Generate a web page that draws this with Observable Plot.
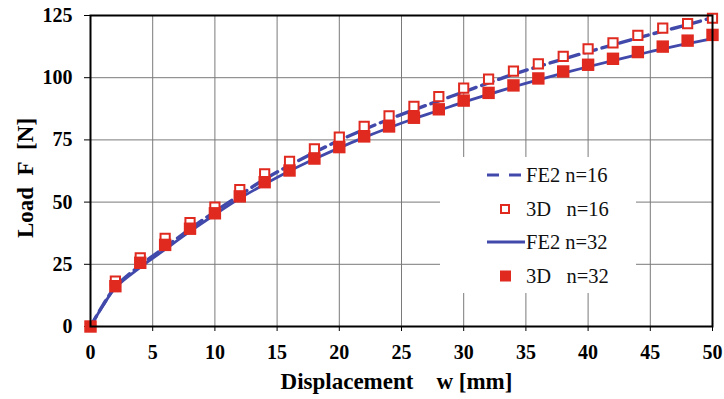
<!DOCTYPE html>
<html>
<head>
<meta charset="utf-8">
<script src="https://cdn.jsdelivr.net/npm/d3@7"></script>
<script src="https://cdn.jsdelivr.net/npm/@observablehq/plot@0.6"></script>
<style>
  html, body { margin: 0; padding: 0; background: #fff; }
  #wrap { position: relative; width: 724px; height: 399px; }
  #legend { position: absolute; left: 440px; top: 157px; width: 196px; height: 136px; background: #fff; }
</style>
</head>
<body>
<div id="wrap"></div>
<script>
// ---- data ----
const wMarkers = [0,2,4,6,8,10,12,14,16,18,20,22,24,26,28,30,32,34,36,38,40,42,44,46,48,50];
const load3D_n16 = [0,18.2,27.6,35.4,41.8,48.0,55.0,61.4,66.4,71.4,76.1,80.4,84.7,88.5,92.4,95.8,99.4,102.6,105.6,108.6,111.6,114.0,117.0,119.9,121.7,123.9];
const load3D_n32 = [0,16.2,25.6,32.8,39.3,45.5,52.3,58.0,62.7,67.5,72.1,76.4,80.4,83.9,87.3,90.8,93.9,96.9,99.7,102.5,105.2,107.6,110.3,112.5,114.9,117.2];
const wLines = [0,1,2,4,6,8,10,12,14,16,18,20,22,24,26,28,30,32,34,36,38,40,42,44,46,48,50];
const loadFE2_n16 = [0,8.6,15.9,24.6,31.9,39.2,46.2,52.8,59.2,64.8,70.0,74.8,79.2,83.3,87.1,90.7,94.3,97.9,101.4,104.5,107.5,110.4,113.2,116.0,118.7,121.3,124.2];
const loadFE2_n32 = [0,8.3,15.6,23.8,31.0,38.2,45.0,51.5,57.2,62.5,67.3,71.8,76.0,79.9,83.5,86.8,90.2,93.3,96.3,99.1,101.8,104.4,106.9,109.3,111.6,113.7,115.7];
const xTicks = [0,5,10,15,20,25,30,35,40,45,50];
const yTicks = [0,25,50,75,100,125];
const legendLabels = ["FE2 n=16", "3D   n=16", "FE2 n=32", "3D   n=32"];

const BLUE = "#4149ab";
const RED = "#e0291f";
const FONT = "Liberation Serif";

const pts = (xs, ys) => xs.map((x, i) => ({w: x, F: ys[i]}));
const m16 = pts(wMarkers, load3D_n16);
const m32 = pts(wMarkers, load3D_n32);
const l16 = pts(wLines, loadFE2_n16);
const l32 = pts(wLines, loadFE2_n32);

const chart = Plot.plot({
  width: 724,
  height: 399,
  marginLeft: 90,
  marginRight: 12,
  marginTop: 15,
  marginBottom: 73,
  style: { fontFamily: FONT, background: "#fff", color: "#000", overflow: "visible" },
  x: { domain: [0, 50] },
  y: { domain: [0, 125] },
  marks: [
    Plot.gridX(xTicks, { stroke: "#7a7a7a", strokeOpacity: 1, strokeWidth: 1 }),
    Plot.gridY(yTicks, { stroke: "#7a7a7a", strokeOpacity: 1, strokeWidth: 1 }),
    Plot.axisX(xTicks, {
      tickSize: 5, tickPadding: 13, fontSize: 20, fontWeight: "bold",
      label: "Displacement\u00a0\u00a0\u00a0 w [mm]", labelAnchor: "center", labelArrow: "none", labelOffset: 62
    }),
    Plot.axisY(yTicks, {
      tickSize: 6, tickPadding: 12, fontSize: 20, fontWeight: "bold",
      label: "Load\u00a0 F\u00a0 [N]", labelAnchor: "center", labelArrow: "none", labelOffset: 74
    }),
    Plot.line(l32, { x: "w", y: "F", stroke: BLUE, strokeWidth: 2.8, curve: "catmull-rom" }),
    Plot.line(l16, { x: "w", y: "F", stroke: BLUE, strokeWidth: 3.4, strokeDasharray: "12,6", curve: "catmull-rom" }),
    Plot.dot(m16, { x: "w", y: "F", symbol: "square", r: 5.2, fill: "#fff", stroke: RED, strokeWidth: 2 }),
    Plot.dot(m32, { x: "w", y: "F", symbol: "square", r: 7, fill: RED, stroke: "none" }),
    Plot.frame({ stroke: "#000", strokeWidth: 2 })
  ]
});

const svgSel = d3.select(chart);
svgSel.selectAll("text").attr("font-family", FONT);
// axis titles: larger, nudged to match the reference
function nudge(sel, dx, dy) {
  sel.each(function () {
    const t = this.getAttribute("transform") || "";
    this.setAttribute("transform", `translate(${dx},${dy}) ` + t);
  });
}
const xl = svgSel.selectAll("g[aria-label='x-axis label']");
const yl = svgSel.selectAll("g[aria-label='y-axis label']");
xl.selectAll("text").attr("font-size", 23).attr("font-weight", "bold");
yl.selectAll("text").attr("font-size", 23).attr("font-weight", "bold");
nudge(xl, -5, 0);
nudge(yl, 0, 7);

const wrap = document.getElementById("wrap");
wrap.appendChild(chart);

// legend
const leg = document.createElement("div");
leg.id = "legend";
wrap.appendChild(leg);
const ls = d3.select(leg).append("svg").attr("width", 196).attr("height", 136);
const rowsY = [18, 52, 85, 119];
legendLabels.forEach((t, i) => {
  const y = rowsY[i];
  const g = ls.append("g");
  if (i === 0) g.append("line").attr("x1", 47).attr("x2", 84).attr("y1", y).attr("y2", y)
      .attr("stroke", BLUE).attr("stroke-width", 3).attr("stroke-dasharray", "12,10");
  if (i === 2) g.append("line").attr("x1", 47).attr("x2", 85).attr("y1", y).attr("y2", y)
      .attr("stroke", BLUE).attr("stroke-width", 2.8);
  if (i === 1) g.append("rect").attr("x", 61).attr("y", y - 4).attr("width", 8).attr("height", 8)
      .attr("fill", "#fff").attr("stroke", RED).attr("stroke-width", 2);
  if (i === 3) g.append("rect").attr("x", 60).attr("y", y - 5.5).attr("width", 11).attr("height", 11)
      .attr("fill", RED);
  g.append("text").attr("x", 86).attr("y", y).attr("dy", "0.35em").attr("font-size", 20.5)
    .attr("font-family", FONT).style("white-space", "pre")
    .attr("fill", "#111").text(t);
});
</script>
</body>
</html>
